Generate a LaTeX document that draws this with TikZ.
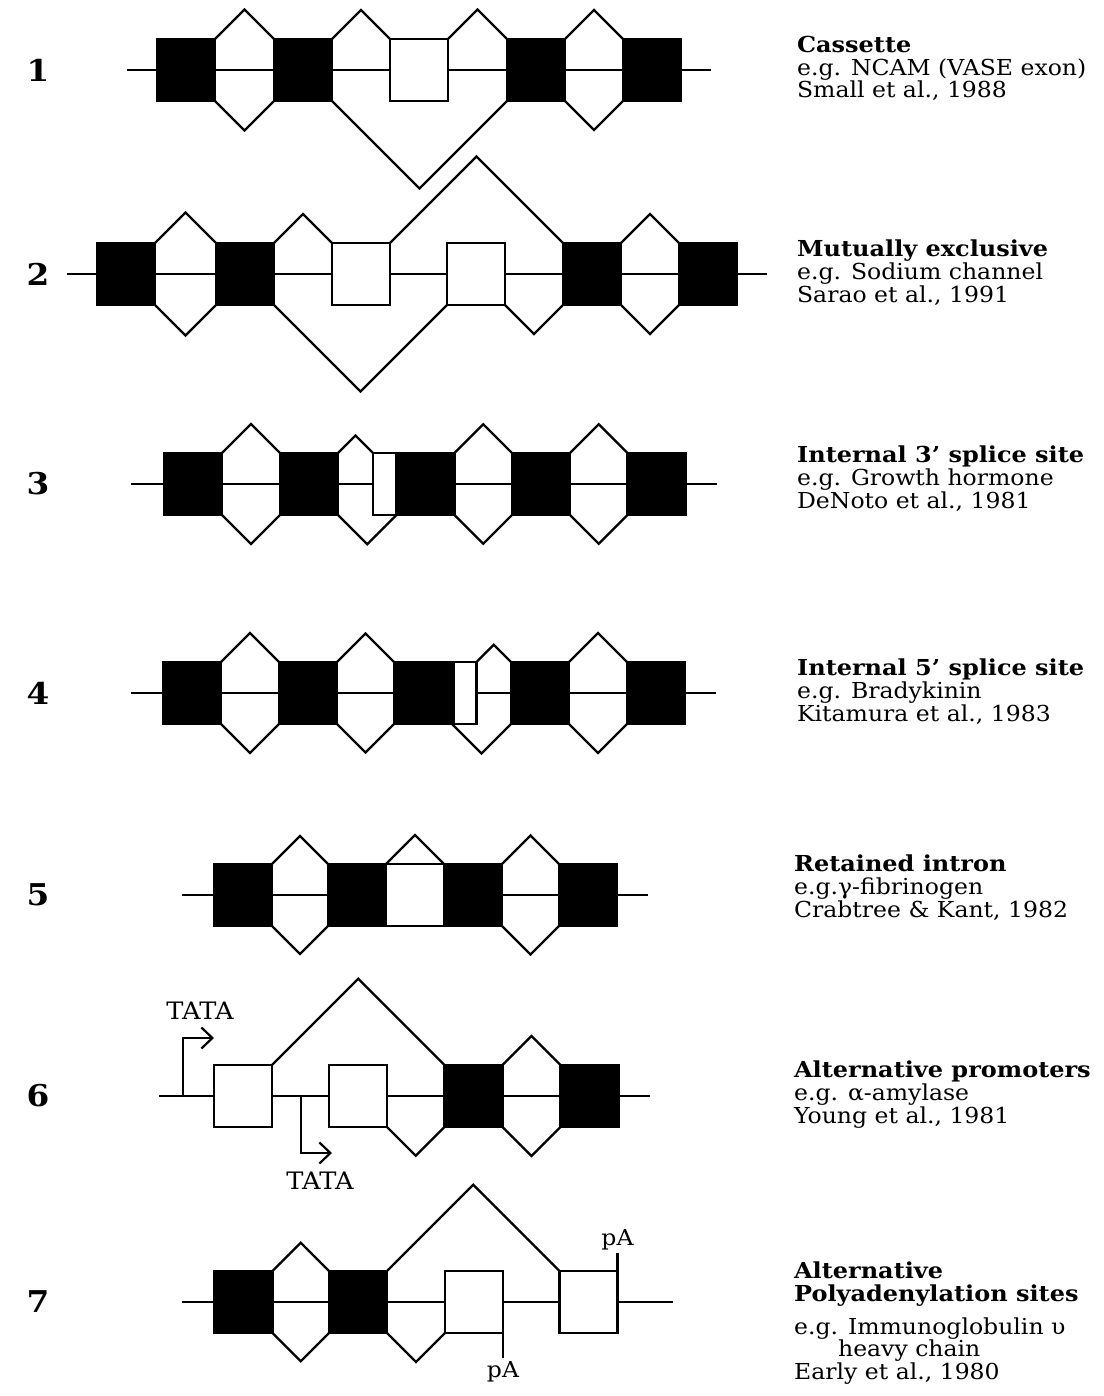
\documentclass[tikz,border=0pt]{standalone}
\usepackage{fontspec}
\setmainfont{DejaVu Serif}[UprightFeatures={FakeStretch=1.07},BoldFeatures={FakeStretch=1.09}]
\usetikzlibrary{arrows.meta,calc}

\newcommand\spliceup[2]{\draw let \p1=(#1.north east),\p2=(#2.north west) in
  (\p1)--({(\x1+\x2)/2},{\y1+(\x2-\x1)/2})--(\p2);}
\newcommand\splicedown[2]{\draw let \p1=(#1.south east),\p2=(#2.south west) in
  (\p1)--({(\x1+\x2)/2},{\y1-(\x2-\x1)/2})--(\p2);}

\begin{document}
\begin{tikzpicture}[x=0.5pt,y=-0.5pt,line width=1.1pt,
  exon/.style={draw,fill=black,minimum width=29pt,minimum height=31pt,inner sep=0pt,outer sep=0pt},
  alt/.style={exon,fill=white},
  slim/.style={alt,minimum width=11.5pt},
  num/.style={font=\bfseries\fontsize{15}{15}\selectfont},
  note/.style={anchor=north west,align=left,inner sep=0pt,font=\fontsize{11}{11.3}\selectfont},
  lab/.style={inner sep=0pt,font=\fontsize{12}{12}\selectfont},
  pa/.style={inner sep=0pt,font=\fontsize{11}{11}\selectfont},
  >={Straight Barb[length=5.5pt,width=10.5pt]}]
\useasboundingbox (0,0) rectangle (1103,1396);

% 1 cassette
\coordinate (s1) at (127,70); \coordinate (f1) at (711,70);
\draw (s1) -- (f1);
\foreach \x/\s [count=\i] in {186/exon,303/exon,419/alt,536/exon,652/exon}
  \node[\s] (e1\i) at (\x,70) {};
\spliceup{e11}{e12} \splicedown{e11}{e12}
\spliceup{e12}{e13} \spliceup{e13}{e14}
\spliceup{e14}{e15} \splicedown{e14}{e15}
\splicedown{e12}{e14}
\node[num] (n1) at (38,70) {1};
\node[note] (t1) at (796,35) {\textbf{Cassette}\\e.g. NCAM (VASE exon)\\Small et al., 1988};

% 2 mutually exclusive
\coordinate (s2) at (67,274); \coordinate (f2) at (767,274);
\draw (s2) -- (f2);
\foreach \x/\s [count=\i] in {126/exon,245/exon,361/alt,476/alt,592/exon,708/exon}
  \node[\s] (e2\i) at (\x,274) {};
\spliceup{e21}{e22} \splicedown{e21}{e22}
\spliceup{e22}{e23} \spliceup{e23}{e25}
\splicedown{e22}{e24} \splicedown{e24}{e25}
\spliceup{e25}{e26} \splicedown{e25}{e26}
\node[num] (n2) at (38,274) {2};
\node[note] (t2) at (796,239) {\textbf{Mutually exclusive}\\e.g. Sodium channel\\Sarao et al., 1991};

% 3 internal 3' site
\coordinate (s3) at (131,484); \coordinate (f3) at (717,484);
\draw (s3) -- (f3);
\foreach \x/\s [count=\i] in {193/exon,309/exon,384.5/slim,425.5/exon,541/exon,656.5/exon}
  \node[\s] (e3\i) at (\x,484) {};
\spliceup{e31}{e32} \splicedown{e31}{e32}
\spliceup{e32}{e33} \splicedown{e32}{e34}
\spliceup{e34}{e35} \splicedown{e34}{e35}
\spliceup{e35}{e36} \splicedown{e35}{e36}
\node[num] (n3) at (38,484) {3};
\node[note] (t3) at (796,445) {\textbf{Internal 3' splice site}\\e.g. Growth hormone\\DeNoto et al., 1981};

% 4 internal 5' site
\coordinate (s4) at (131,693); \coordinate (f4) at (716,693);
\draw (s4) -- (f4);
\foreach \x/\s [count=\i] in {192/exon,308/exon,423/exon,465/slim,540/exon,656/exon}
  \node[\s] (e4\i) at (\x,693) {};
\spliceup{e41}{e42} \splicedown{e41}{e42}
\spliceup{e42}{e43} \splicedown{e42}{e43}
\spliceup{e44}{e45} \splicedown{e43}{e45}
\spliceup{e45}{e46} \splicedown{e45}{e46}
\node[num] (n4) at (38,693) {4};
\node[note] (t4) at (796,658) {\textbf{Internal 5' splice site}\\e.g. Bradykinin\\Kitamura et al., 1983};

% 5 retained intron
\coordinate (s5) at (182,895); \coordinate (f5) at (648,895);
\draw (s5) -- (f5);
\foreach \x/\s [count=\i] in {243/exon,357/exon,415/alt,473/exon,588/exon}
  \node[\s] (e5\i) at (\x,895) {};
\spliceup{e51}{e52} \splicedown{e51}{e52}
\spliceup{e52}{e54}
\spliceup{e54}{e55} \splicedown{e54}{e55}
\node[num] (n5) at (38,895) {5};
\node[note] (t5) at (793,854) {\textbf{Retained intron}\\e.g.γ-fibrinogen\\Crabtree \& Kant, 1982};

% 6 alternative promoters
\coordinate (s6) at (159,1096); \coordinate (f6) at (650,1096);
\draw (s6) -- (f6);
\foreach \x/\s [count=\i] in {243/alt,358/alt,473.5/exon,589.5/exon}
  \node[\s] (e6\i) at (\x,1096) {};
\spliceup{e61}{e63} \splicedown{e62}{e63}
\spliceup{e63}{e64} \splicedown{e63}{e64}
\coordinate (p1) at (183,1096); \coordinate (q1) at (214,1038);
\coordinate (p2) at (301,1096); \coordinate (q2) at (332,1153);
\draw[->] (p1) |- (q1);
\draw[->] (p2) |- (q2);
\node[lab] (tata1) at (200,1011) {TATA};
\node[lab] (tata2) at (320,1181) {TATA};
\node[num] (n6) at (38,1096) {6};
\node[note] (t6) at (793,1060) {\textbf{Alternative promoters}\\e.g. α-amylase\\Young et al., 1981};

% 7 alternative polyA
\coordinate (s7) at (182,1302); \coordinate (f7) at (673,1302);
\draw (s7) -- (f7);
\foreach \x/\s [count=\i] in {243.5/exon,358/exon,474/alt,588.5/alt}
  \node[\s] (e7\i) at (\x,1302) {};
\spliceup{e71}{e72} \splicedown{e71}{e72}
\splicedown{e72}{e73} \spliceup{e72}{e74}
\draw (e73.south east) -- ++(0,25) node[pa,below=1pt] (pa1) {pA};
\draw (e74.north east) -- ++(0,-18) node[pa,above=1pt] (pa2) {pA};
\node[num] (n7) at (38,1302) {7};
\node[note] (t7) at (793,1261) {\textbf{Alternative}\\\textbf{Polyadenylation sites}\\[5pt]e.g. Immunoglobulin υ\\\hspace*{22pt}heavy chain\\Early et al., 1980};
\end{tikzpicture}
\end{document}
